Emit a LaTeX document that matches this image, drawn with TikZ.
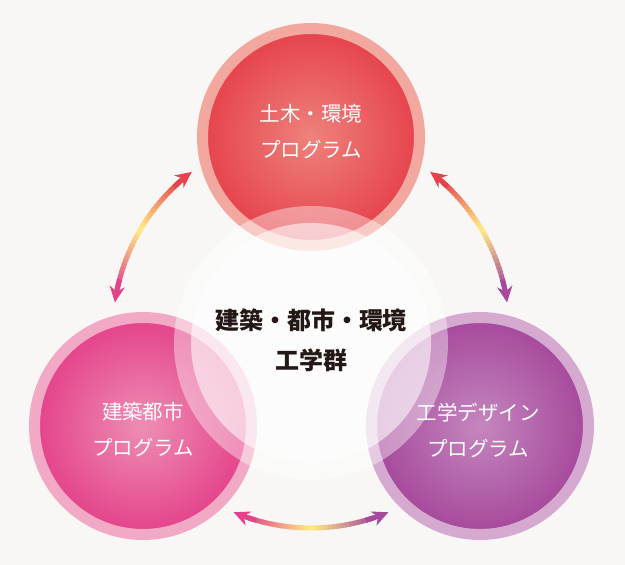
\documentclass[tikz,border=0pt]{standalone}
\usepackage{fontspec}
\newfontfamily\cjk{Noto Sans CJK JP}
\usetikzlibrary{arrows.meta}
\definecolor{bg}{HTML}{F8F7F6}
\definecolor{dobokuc}{HTML}{E6424C}
\definecolor{dobokul}{HTML}{EE827C}
\definecolor{dobokur}{HTML}{F2A89F}
\definecolor{kenchikuc}{HTML}{E4428A}
\definecolor{kenchikul}{HTML}{EE8EB4}
\definecolor{kenchikur}{HTML}{F1A9C6}
\definecolor{designc}{HTML}{A6489B}
\definecolor{designl}{HTML}{C487BF}
\definecolor{designr}{HTML}{D5A9D0}
\definecolor{kiiro}{HTML}{FFEE85}
\definecolor{sumi}{HTML}{231815}
\tikzstyle{program} = [circle, minimum size=217pt, inner sep=0pt, line width=11pt]
\tikzstyle{progname} = [align=center, text=white, font={\cjk\fontsize{20.5pt}{36pt}\selectfont}]
\tikzstyle{gunname} = [align=center, text=sumi, font={\cjk\bfseries\fontsize{24pt}{40pt}\selectfont}]
\tikzstyle{link} = [line width=5pt]
\tikzstyle{tip} = [{Stealth[length=16pt,width=15pt,inset=5pt]}-]

% gradient arrow on the ring round (hub): start angle, end angle, start colour, end colour
\newcommand{\gradarrow}[4]{%
  \foreach \i in {0,...,29}{
    \pgfmathsetmacro{\ta}{#1+(#2-#1)*(0.1+0.8*\i/30)}
    \pgfmathsetmacro{\tb}{#1+(#2-#1)*(0.1+0.8*min(\i+1.4,30)/30)}
    \pgfmathtruncatemacro{\mixa}{min(100,200*(\i+0.5)/30)}
    \pgfmathtruncatemacro{\mixb}{max(0,200*(\i+0.5)/30-100)}
    \colorlet{arrc}{kiiro!\mixa!#3}
    \colorlet{arrc}{#4!\mixb!arrc}
    \draw[link, arrc] (\ta:198pt) arc[start angle=\ta, end angle=\tb, radius=198pt];
  }
  \pgfmathsetmacro{\ha}{#1+0.15*(#2-#1)}
  \pgfmathsetmacro{\hb}{#2-0.15*(#2-#1)}
  \draw[link, tip, #3] (#1:198pt) arc[start angle=#1, end angle=\ha, radius=198pt];
  \draw[link, tip, #4] (#2:198pt) arc[start angle=#2, end angle=\hb, radius=198pt];
}

\begin{document}
\begin{tikzpicture}[x=1pt, y=1pt]
    \fill[bg] (0,0) rectangle (625,565);
    \useasboundingbox (0,0) rectangle (625,565);
    \coordinate (hub) at (311,235);
    \coordinate (glow) at (311,222);

    \node[program, draw=dobokur, inner color=dobokul, outer color=dobokuc] (doboku) at (311,428) {};
    \node[program, draw=kenchikur, inner color=kenchikul, outer color=kenchikuc] (kenchiku) at (143,139) {};
    \node[program, draw=designr, inner color=designl, outer color=designc] (design) at (480,139) {};

    % white glow in the middle
    \fill[white, opacity=.4] (glow) circle (137pt);
    \fill[white, opacity=.55] (glow) circle (120pt);
    \node[gunname] (gun) at (311,225) {建築・都市・環境\\工学群};

    \node[progname] (dobokut) at ([yshift=5pt]doboku) {土木・環境\\プログラム};
    \node[progname] (kenchikut) at ([yshift=-4pt]kenchiku) {建築都市\\プログラム};
    \node[progname] (designt) at ([xshift=-2pt,yshift=-4pt]design) {工学デザイン\\プログラム};

    \begin{scope}[shift={(hub)}]
        \gradarrow{127}{172}{dobokuc}{kenchikuc}
        \gradarrow{53}{8}{dobokuc}{designc}
        \gradarrow{247}{293}{kenchikuc}{designc}
    \end{scope}
\end{tikzpicture}
\end{document}
